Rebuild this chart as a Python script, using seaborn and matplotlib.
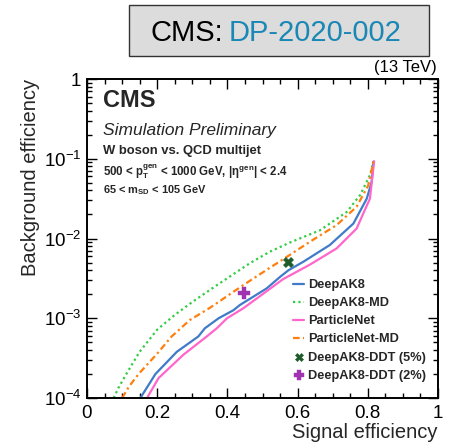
import numpy as np
import pandas as pd
import matplotlib
matplotlib.use('Agg')
import matplotlib.pyplot as plt
import seaborn as sns
from matplotlib.patches import Rectangle
from matplotlib.ticker import MultipleLocator, LogLocator, NullFormatter, FuncFormatter

# ==================== data ====================
deepak8_sig = [0.152, 0.195, 0.256, 0.317, 0.336, 0.375, 0.417, 0.436, 0.512, 0.550, 0.574, 0.616, 0.692, 0.759, 0.797, 0.811, 0.816]
deepak8_bkg = [1e-4, 2e-4, 3.8e-4, 5.9e-4, 7.5e-4, 1e-3, 1.26e-3, 1.47e-3, 2.37e-3, 3.3e-3, 4.0e-3, 5.1e-3, 8.3e-3, 1.54e-2, 3.16e-2, 5.1e-2, 9.2e-2]

deepak8md_sig = [0.076, 0.090, 0.112, 0.150, 0.200, 0.250, 0.300, 0.370, 0.464, 0.520, 0.578, 0.664, 0.740, 0.778, 0.806, 0.816]
deepak8md_bkg = [1e-4, 1.35e-4, 2.0e-4, 3.8e-4, 7.2e-4, 1.1e-3, 1.6e-3, 2.6e-3, 4.9e-3, 6.8e-3, 8.9e-3, 1.27e-2, 2.15e-2, 3.5e-2, 6.2e-2, 9.2e-2]

pnet_sig = [0.171, 0.204, 0.275, 0.341, 0.370, 0.399, 0.445, 0.500, 0.559, 0.635, 0.711, 0.768, 0.806, 0.818]
pnet_bkg = [1e-4, 1.78e-4, 3.5e-4, 5.9e-4, 7.5e-4, 1e-3, 1.33e-3, 2.0e-3, 3.1e-3, 4.7e-3, 7.5e-3, 1.33e-2, 3.16e-2, 9.3e-2]

pnetmd_sig = [0.100, 0.120, 0.147, 0.200, 0.241, 0.293, 0.350, 0.445, 0.521, 0.559, 0.635, 0.711, 0.768, 0.801, 0.816]
pnetmd_bkg = [1e-4, 1.4e-4, 2e-4, 3.6e-4, 5.9e-4, 9.5e-4, 1.35e-3, 2.6e-3, 4.3e-3, 5.5e-3, 9.1e-3, 1.47e-2, 2.5e-2, 4.6e-2, 9.2e-2]

ddt_labels = ['DeepAK8-DDT (5%)', 'DeepAK8-DDT (2%)']
ddt_sig = [0.574, 0.448]
ddt_bkg = [5.1e-3, 2.1e-3]

taggers = ['DeepAK8', 'DeepAK8-MD', 'ParticleNet', 'ParticleNet-MD']
curves = {
    'DeepAK8': (deepak8_sig, deepak8_bkg),
    'DeepAK8-MD': (deepak8md_sig, deepak8md_bkg),
    'ParticleNet': (pnet_sig, pnet_bkg),
    'ParticleNet-MD': (pnetmd_sig, pnetmd_bkg),
}

df = pd.concat([pd.DataFrame({'sig': s, 'bkg': b, 'tagger': t}) for t, (s, b) in curves.items()],
               ignore_index=True)

# ==================== style ====================
sns.set_theme(style='ticks')
plt.rcParams['font.family'] = ['Liberation Sans', 'DejaVu Sans']
plt.rcParams['mathtext.fontset'] = 'custom'
plt.rcParams['mathtext.rm'] = 'Liberation Sans'
plt.rcParams['mathtext.it'] = 'Liberation Sans:italic'
plt.rcParams['mathtext.bf'] = 'Liberation Sans:bold'
plt.rcParams['axes.unicode_minus'] = True

line_style = {
    'DeepAK8': dict(color='#3f7bc8', linestyle='-'),
    'DeepAK8-MD': dict(color='#33cc44', linestyle=(0, (1, 1.4))),
    'ParticleNet': dict(color='#ff66cc', linestyle='-'),
    'ParticleNet-MD': dict(color='#ff7f0e', linestyle=(0, (3, 1.5, 1, 1.5))),
}

fig = plt.figure(figsize=(4.52, 4.42), dpi=100)
fig.patch.set_facecolor('white')
ax = fig.add_axes([87 / 452, 1 - 398 / 442, 351 / 452, 319 / 442])

for t in taggers:
    sns.lineplot(data=df[df['tagger'] == t], x='sig', y='bkg', ax=ax, label=t,
                 sort=False, estimator=None, linewidth=1.6, **line_style[t])

sns.scatterplot(x=[ddt_sig[0]], y=[ddt_bkg[0]], ax=ax, marker='X', s=55,
                color='#1d5c2a', edgecolor='#1d5c2a', linewidth=0.3, label=ddt_labels[0], zorder=5)
sns.scatterplot(x=[ddt_sig[1]], y=[ddt_bkg[1]], ax=ax, marker='P', s=70,
                color='#a033b0', edgecolor='#a033b0', linewidth=0.3, label=ddt_labels[1], zorder=5)

# ==================== axes ====================
ax.set_yscale('log')
ax.set_xlim(0, 1)
ax.set_ylim(1e-4, 1)

ax.xaxis.set_major_locator(MultipleLocator(0.2))
ax.xaxis.set_minor_locator(MultipleLocator(0.05))
ax.xaxis.set_major_formatter(FuncFormatter(lambda v, p: '0' if abs(v) < 1e-9 else ('1' if abs(v - 1) < 1e-9 else f'{v:.1f}')))
ax.yaxis.set_major_locator(LogLocator(base=10, numticks=10))
ax.yaxis.set_minor_locator(LogLocator(base=10, subs=np.arange(2, 10), numticks=20))
ax.yaxis.set_minor_formatter(NullFormatter())
ax.yaxis.set_major_formatter(FuncFormatter(lambda v, p: '1' if abs(v - 1) < 1e-9 else r'$10^{%d}$' % round(np.log10(v))))

ax.tick_params(which='both', direction='in', top=True, right=True, colors='black', labelsize=13.5)
ax.tick_params(which='major', length=7.5, width=1.0)
ax.tick_params(which='minor', length=3.8, width=1.0)
ax.tick_params(axis='x', pad=5)
ax.tick_params(axis='y', pad=4)
for sp in ax.spines.values():
    sp.set_linewidth(1.4)
    sp.set_color('black')

ax.set_xlabel('Signal efficiency', fontsize=14.5, loc='right')
ax.xaxis.set_label_coords(1.0, -0.078)
ax.set_ylabel('Background efficiency', fontsize=14.5, loc='top')
ax.yaxis.set_label_coords(-0.134, 1.0)

# ==================== text inside the frame ====================
ax.text(0.0456, 0.912, 'CMS', transform=ax.transAxes, fontsize=17, fontweight='bold', va='baseline')
ax.text(0.0456, 0.824, 'Simulation Preliminary', transform=ax.transAxes, fontsize=12.5, style='italic', va='baseline')
ax.text(0.0456, 0.765, 'W boson vs. QCD multijet', transform=ax.transAxes, fontsize=9.4, fontweight='bold', va='baseline')
ax.text(0.0456, 0.699, r'500 < $\mathbf{p_{T}^{gen}}$ < 1000 GeV, |$\mathbf{\eta^{gen}}$| < 2.4',
        transform=ax.transAxes, fontsize=8.3, fontweight='bold', va='baseline')
ax.text(0.0456, 0.643, r'65 < $\mathbf{m_{SD}}$ < 105 GeV', transform=ax.transAxes,
        fontsize=7.9, fontweight='bold', va='baseline')

# legend
handles, labels = ax.get_legend_handles_labels()
ax.legend(handles, labels, loc='upper left', bbox_to_anchor=(293 / 452, 1 - 279 / 442),
          bbox_transform=fig.transFigure, frameon=False, prop={'weight': 'bold', 'size': 9.2},
          handlelength=0.9, handletextpad=0.3, labelspacing=0.48, borderpad=0, borderaxespad=0,
          markerscale=0.8)

# ==================== header box ====================
fig.patches.append(Rectangle((129 / 452, 1 - 56 / 442), 300 / 452, 51 / 442, transform=fig.transFigure,
                             facecolor='#dcdcdc', edgecolor='#333333', linewidth=1.0))
fig.text(150 / 452, 1 - 41 / 442, 'CMS:', fontsize=21, color='black', va='baseline')
fig.text(229 / 452, 1 - 41 / 442, 'DP-2020-002', fontsize=21, color='#1a87b5', va='baseline')
fig.text(437 / 452, 1 - 72 / 442, '(13 TeV)', fontsize=12, color='black', ha='right', va='baseline')

fig.savefig('out.png', dpi=100)
